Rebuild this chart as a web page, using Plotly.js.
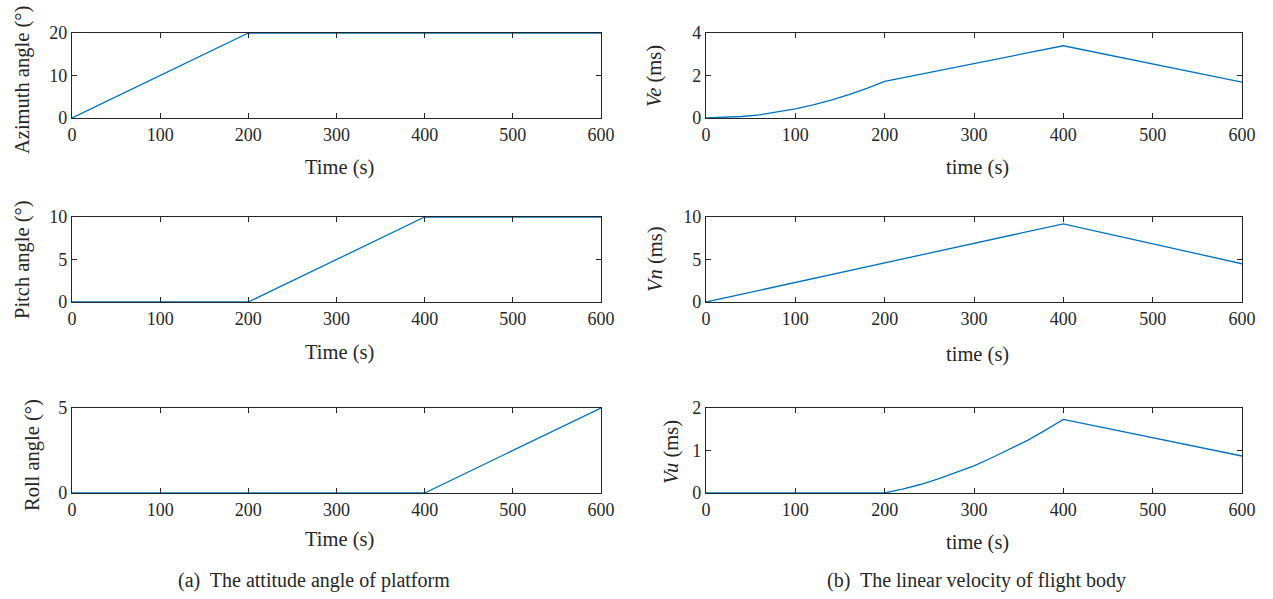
<!DOCTYPE html>
<html>
<head>
<meta charset="utf-8">
<script src="https://cdn.plot.ly/plotly-3.0.1.min.js"></script>
<style>html,body{margin:0;padding:0;background:#fff;}#chart{width:1273px;height:599px;}</style>
</head>
<body>
<div id="chart"></div>
<script>
// ---- data ----
const tAtt = [0, 200, 400, 600];
const azimuth = [0, 20, 20, 20];
const pitch = [0, 0, 10, 10];
const roll = [0, 0, 0, 5];

const tVe = [0, 20, 40, 60, 80, 100, 120, 140, 160, 180, 200, 400, 600];
const ve = [0, 0.02, 0.07, 0.15, 0.28, 0.43, 0.62, 0.84, 1.10, 1.39, 1.72, 3.4, 1.69];

const tVn = [0, 200, 400, 600];
const vn = [0, 4.6, 9.2, 4.5];

const tVu = [0, 200, 220, 240, 260, 280, 300, 320, 340, 360, 380, 400, 600];
const vu = [0, 0, 0.09, 0.2, 0.33, 0.48, 0.64, 0.83, 1.03, 1.24, 1.48, 1.73, 0.87];

const xTicks = [0, 100, 200, 300, 400, 500, 600];
const yTicksAz = [0, 10, 20];
const yTicksPitch = [0, 5, 10];
const yTicksRoll = [0, 5];
const yTicksVe = [0, 2, 4];
const yTicksVn = [0, 5, 10];
const yTicksVu = [0, 1, 2];

const yTitles = ['Azimuth angle (°)', 'Pitch angle (°)', 'Roll angle (°)',
                 '<i>Ve</i> (ms)', '<i>Vn</i> (ms)', '<i>Vu</i> (ms)'];
const xTitleLeft = 'Time (s)';
const xTitleRight = 'time (s)';
const captions = ['(a)  The attitude angle of platform', '(b)  The linear velocity of flight body'];

// ---- layout ----
const W = 1273, H = 599;
const FONT = 'Liberation Serif, Times New Roman, serif';
const INK = '#262626';
const LINE = '#0072BD';

const colX = [[72, 601], [706, 1242]];
const rowY = [[33, 118], [217, 302], [408, 493]];

function xd(px) { return px / W; }
function yd(py) { return 1 - py / H; }

const panels = [
  {col: 0, row: 0, x: tAtt, y: azimuth, range: [0, 20], ticks: yTicksAz},
  {col: 0, row: 1, x: tAtt, y: pitch, range: [0, 10], ticks: yTicksPitch},
  {col: 0, row: 2, x: tAtt, y: roll, range: [0, 5], ticks: yTicksRoll},
  {col: 1, row: 0, x: tVe, y: ve, range: [0, 4], ticks: yTicksVe},
  {col: 1, row: 1, x: tVn, y: vn, range: [0, 10], ticks: yTicksVn},
  {col: 1, row: 2, x: tVu, y: vu, range: [0, 2], ticks: yTicksVu},
];

const data = [];
const layout = {
  width: W, height: H,
  margin: {l: 0, r: 0, t: 0, b: 0},
  paper_bgcolor: '#fff', plot_bgcolor: '#fff',
  showlegend: false,
  font: {family: FONT, color: INK, size: 18},
  annotations: []
};

function axisCommon() {
  return {
    showline: true, linecolor: INK, linewidth: 1.2, mirror: 'ticks',
    ticks: 'inside', ticklen: 5, tickwidth: 1, tickcolor: INK,
    showgrid: false, zeroline: false, fixedrange: true,
    tickfont: {family: FONT, size: 18, color: INK}
  };
}

// title pixel positions
const yTitlePos = [[22, 80], [22, 260], [32, 455], [655, 76], [655, 260], [671, 452]];
const xTitleY = [[167, 352, 539], [167, 354, 542]];

panels.forEach((p, i) => {
  const n = i + 1;
  const xa = n === 1 ? 'xaxis' : 'xaxis' + n;
  const ya = n === 1 ? 'yaxis' : 'yaxis' + n;
  data.push({
    type: 'scatter', mode: 'lines', x: p.x, y: p.y,
    xaxis: 'x' + (n === 1 ? '' : n), yaxis: 'y' + (n === 1 ? '' : n),
    line: {color: LINE, width: 1.3}, hoverinfo: 'skip', cliponaxis: false
  });
  layout[xa] = Object.assign(axisCommon(), {
    domain: [xd(colX[p.col][0]), xd(colX[p.col][1])],
    anchor: 'y' + (n === 1 ? '' : n),
    range: [0, 600], tickvals: xTicks, ticktext: xTicks.map(String)
  });
  layout[ya] = Object.assign(axisCommon(), {
    domain: [yd(rowY[p.row][1]), yd(rowY[p.row][0])],
    anchor: 'x' + (n === 1 ? '' : n),
    range: p.range, tickvals: p.ticks, ticktext: p.ticks.map(String)
  });
  layout.annotations.push({
    xref: 'paper', yref: 'paper', x: xd(yTitlePos[i][0]), y: yd(yTitlePos[i][1]),
    text: yTitles[i], showarrow: false, textangle: -90,
    xanchor: 'center', yanchor: 'middle',
    font: {family: FONT, size: 20.5, color: INK}
  });
  const cx = (colX[p.col][0] + colX[p.col][1]) / 2 + 3;
  layout.annotations.push({
    xref: 'paper', yref: 'paper', x: xd(cx), y: yd(xTitleY[p.col][p.row]),
    text: p.col === 0 ? xTitleLeft : xTitleRight, showarrow: false,
    xanchor: 'center', yanchor: 'middle',
    font: {family: FONT, size: 20.5, color: INK}
  });
});

// captions
[[314, 580], [976, 580]].forEach((pos, i) => {
  layout.annotations.push({
    xref: 'paper', yref: 'paper', x: xd(pos[0]), y: yd(pos[1]),
    text: captions[i], showarrow: false, xanchor: 'center', yanchor: 'middle',
    font: {family: FONT, size: 20, color: INK}
  });
});

Plotly.newPlot('chart', data, layout, {displayModeBar: false, staticPlot: true});
</script>
</body>
</html>
